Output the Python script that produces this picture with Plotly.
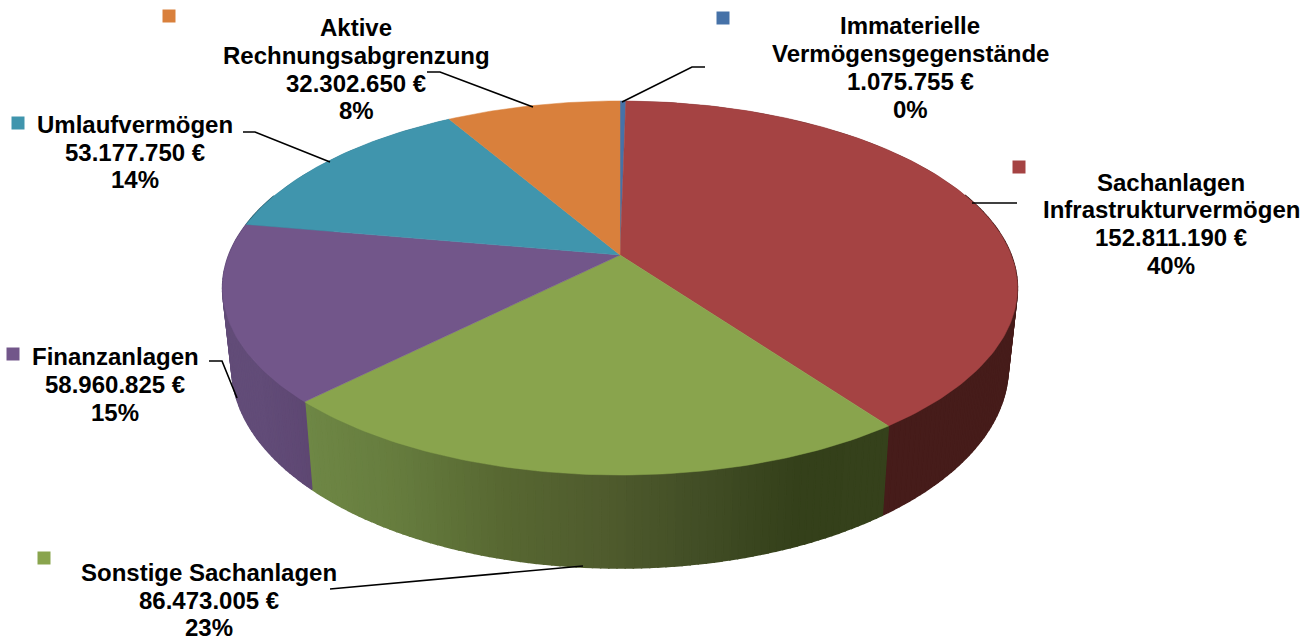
import numpy as np
import plotly.graph_objects as go

# ---------- data (clockwise from 12 o'clock) ----------
names = [["Immaterielle", "Vermögensgegenstände"],
         ["Sachanlagen", "Infrastrukturvermögen"],
         ["Sonstige Sachanlagen"],
         ["Finanzanlagen"],
         ["Umlaufvermögen"],
         ["Aktive", "Rechnungsabgrenzung"]]
values = [1075755, 152811190, 86473005, 58960825, 53177750, 32302650]
value_labels = ["1.075.755 €", "152.811.190 €", "86.473.005 €", "58.960.825 €", "53.177.750 €", "32.302.650 €"]
percent_labels = ["0%", "40%", "23%", "15%", "14%", "8%"]

# ---------- style ----------
top_colors = ["#4672A8", "#A54343", "#89A44D", "#72568A", "#4095AD", "#D9803C"]
# wall shading by screen x of each slice: (x stops, colours)
wall_stops = {
    1: ([880, 1020], [(70, 28, 26), (70, 28, 26)]),
    2: ([300, 400, 500, 600, 700, 800, 890], [(111, 136, 70), (102, 124, 62), (88, 104, 50), (80, 92, 46), (66, 78, 38), (52, 64, 26), (54, 66, 28)]),
    3: ([220, 260, 310], [(98, 76, 120), (98, 76, 120), (94, 71, 114)]),
    4: ([220, 320], [(40, 90, 105), (40, 90, 105)]),
}
label_x = [910, 1171, 209, 115, 135, 356]
label_y = [[25, 53, 81, 109], [182, 209, 237, 265], [572, 600, 627], [356, 384, 412], [124, 152, 179], [27, 55, 83, 110]]
key_x = [723, 1019, 44, 13, 18, 169]
key_y = [18, 167, 558, 354, 123, 16]
leader_x = [[622, 692, 705], [972, 1017], [330, 583], [209, 222, 237], [243, 255, 330], [427, 440, 533]]
leader_y = [[102, 67, 67], [203, 203], [589, 566], [361, 361, 398], [132, 132, 162], [72, 72, 107]]
FONT = "Liberation Sans, Arial, sans-serif"
FONT_SIZE = 24

# ---------- perspective geometry of the disc ----------
CX, CY, A, B, P, DEPTH, SHRINK = 620, 255, 391.2, 181.2, 0.1765, 76.6, 0.977


def top_rim(theta):
    X, Y = np.sin(theta), -np.cos(theta)
    w = 1 - P * Y
    return CX + A * X / w, CY + B * Y / w


def bottom_rim(theta):
    sx, sy = top_rim(theta)
    Y = -np.cos(theta)
    return CX + (sx - CX) * SHRINK, sy + DEPTH / (1 - P * Y)


total = sum(values)
edges = np.concatenate([[0], np.cumsum(values)]) / total * 2 * np.pi

fig = go.Figure()

# side walls: a flat base per slice, then thin gradient strips over it
for i, (x_stops, rgbs) in wall_stops.items():
    rgb = np.array(rgbs, float)
    a0, a1 = edges[i], edges[i + 1]
    ts_all = np.linspace(a0, a1, 90)
    xt, yt = top_rim(ts_all)
    xb, yb = bottom_rim(ts_all[::-1])
    base = "rgb(%d,%d,%d)" % tuple(rgb.mean(axis=0))
    fig.add_trace(go.Scatter(x=np.r_[xt, xb, xt[0]], y=np.r_[yt, yb, yt[0]], mode="lines",
                             fill="toself", fillcolor=base, line=dict(width=0),
                             hoverinfo="skip", showlegend=False))
    n = max(2, int(np.degrees(a1 - a0) / 1.0))
    ts = np.linspace(a0, a1, n + 1)
    for t0, t1 in zip(ts[:-1], ts[1:]):
        if -np.cos((t0 + t1) / 2) < -0.35:
            continue
        sub = np.linspace(t0, t1, 3)
        xt, yt = top_rim(sub)
        xb, yb = bottom_rim(sub[::-1])
        mx = xt.mean()
        c = [np.interp(mx, x_stops, rgb[:, k]) for k in range(3)]
        col = "rgb(%d,%d,%d)" % tuple(c)
        fig.add_trace(go.Scatter(x=np.r_[xt, xb, xt[0]], y=np.r_[yt, yb, yt[0]], mode="lines",
                                 fill="toself", fillcolor=col, line=dict(color=col, width=1.5),
                                 hoverinfo="skip", showlegend=False))

# top faces
for i, col in enumerate(top_colors):
    a0, a1 = edges[i], edges[i + 1]
    ts = np.linspace(a0, a1, max(3, int(np.degrees(a1 - a0)) + 2))
    xs, ys = top_rim(ts)
    fig.add_trace(go.Scatter(x=np.r_[CX, xs, CX], y=np.r_[CY, ys, CY], mode="lines", fill="toself",
                             fillcolor=col, line=dict(color=col, width=0.5), name=" ".join(names[i]),
                             text=value_labels[i], hoverinfo="name+text", showlegend=False))

# leader lines
for lx, ly in zip(leader_x, leader_y):
    fig.add_trace(go.Scatter(x=lx, y=ly, mode="lines", line=dict(color="black", width=1.6),
                             hoverinfo="skip", showlegend=False))

# colour keys
fig.add_trace(go.Scatter(x=key_x, y=key_y, mode="markers",
                         marker=dict(symbol="square", size=13, color=top_colors),
                         hoverinfo="skip", showlegend=False))

# labels
for i in range(len(values)):
    lines = names[i] + [value_labels[i], percent_labels[i]]
    for text, y in zip(lines, label_y[i]):
        fig.add_annotation(x=label_x[i], y=y, text="<b>" + text + "</b>", showarrow=False,
                           xanchor="center", yanchor="middle",
                           font=dict(family=FONT, size=FONT_SIZE, color="black"))

fig.update_layout(width=1315, height=639, margin=dict(l=0, r=0, t=0, b=0), autosize=False,
                  paper_bgcolor="white", plot_bgcolor="white",
                  xaxis=dict(range=[0, 1315], visible=False, fixedrange=True),
                  yaxis=dict(range=[639, 0], visible=False, fixedrange=True))
fig.write_html("out.html", config=dict(displayModeBar=False),
               post_script="document.body.style.margin='0';document.documentElement.style.overflow='hidden';")
